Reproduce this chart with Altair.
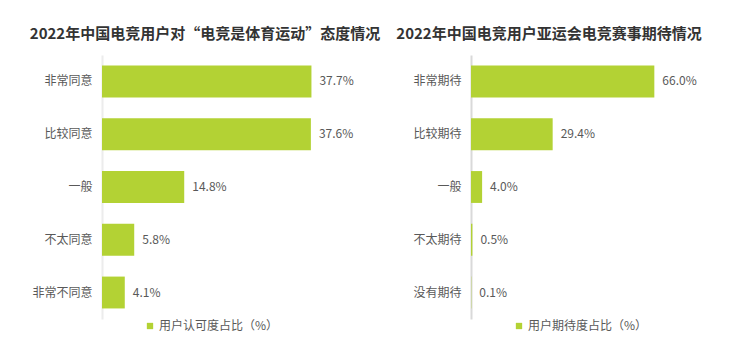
import altair as alt
import pandas as pd

left_title = "2022年中国电竞用户对“电竞是体育运动”态度情况"
left_cats = ["非常同意", "比较同意", "一般", "不太同意", "非常不同意"]
left_vals = [37.7, 37.6, 14.8, 5.8, 4.1]
left_series = "用户认可度占比（%）"

right_title = "2022年中国电竞用户亚运会电竞赛事期待情况"
right_cats = ["非常期待", "比较期待", "一般", "不太期待", "没有期待"]
right_vals = [66.0, 29.4, 4.0, 0.5, 0.1]
right_series = "用户期待度占比（%）"

GREEN = "#b3d234"
TEXT = "#595959"
FONT = "Noto Sans CJK SC"


def panel(title, cats, vals, series, xmax, title_dx, axis_color):
    df = pd.DataFrame({"cat": cats, "v": vals, "series": [series] * len(cats)})
    base = alt.Chart(df).encode(
        y=alt.Y(
            "cat:N",
            sort=cats,
            title=None,
            scale=alt.Scale(paddingInner=0.396, paddingOuter=0.2),
            axis=alt.Axis(
                ticks=False,
                domain=True,
                domainColor=axis_color,
                domainWidth=2,
                labelFontSize=12,
                labelColor=TEXT,
                labelPadding=10,
                labelFont=FONT,
            ),
        ),
        x=alt.X("v:Q", axis=None, scale=alt.Scale(domain=[0, xmax], nice=False)),
    )
    bars = base.mark_bar().encode(
        color=alt.Color(
            "series:N",
            scale=alt.Scale(range=[GREEN]),
            legend=alt.Legend(
                title=None,
                orient="none",
                legendX=42,
                legendY=265,
                symbolType="square",
                symbolSize=40,
                symbolStrokeWidth=0,
                labelFontSize=12,
                labelColor=TEXT,
                labelFont=FONT,
                labelOffset=3,
            ),
        )
    )
    labels = base.mark_text(
        align="left", baseline="middle", dx=8, fontSize=12, color=TEXT, font=FONT
    ).transform_calculate(label="format(datum.v, '.1f') + '%'").encode(text="label:N")
    return (bars + labels).properties(
        width=250,
        height=264,
        view=alt.ViewBackground(stroke="transparent", strokeWidth=0),
        title=alt.TitleParams(
            text=title,
            fontSize=15,
            fontWeight="bold",
            color="#333333",
            font=FONT,
            anchor="middle",
            dx=title_dx,
            offset=13,
        ),
    )


left = panel(left_title, left_cats, left_vals, left_series, 45, -22, "#ececec")
right = panel(right_title, right_cats, right_vals, right_series, 90, -47, "#d9d9d9")

chart = (
    alt.hconcat(left, right, spacing=15)
    .resolve_scale(color="independent")
    .resolve_legend(color="independent")
    .properties(padding={"left": 29, "top": 27, "right": 5, "bottom": 5})
    .configure_view(stroke="transparent", strokeWidth=0)
    .configure(font=FONT, background="white")
)

chart.save("out.html", embed_options={"renderer": "svg", "actions": False})
